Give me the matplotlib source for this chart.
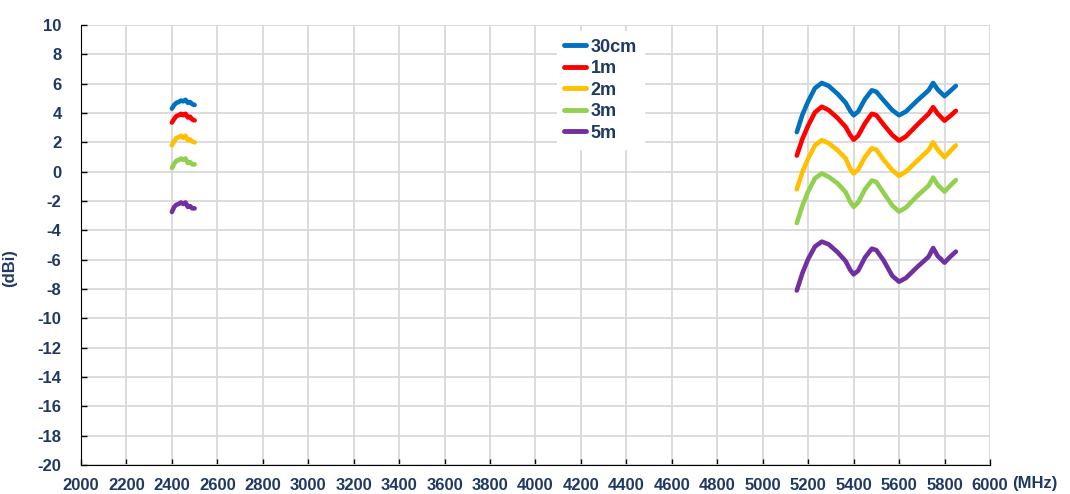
import numpy as np
import matplotlib.pyplot as plt

plt.rcParams['font.family'] = ['Liberation Sans', 'DejaVu Sans']
plt.rcParams['axes.unicode_minus'] = False

# 2.4 GHz band
freq_24 = [2400, 2410, 2420, 2430, 2440, 2450, 2460, 2470, 2480, 2490, 2500]
cm30_24 = [4.3, 4.55, 4.7, 4.75, 4.85, 4.8, 4.9, 4.7, 4.75, 4.6, 4.55]
m1_24 = [3.35, 3.6, 3.8, 3.85, 3.95, 3.85, 3.95, 3.7, 3.75, 3.55, 3.5]
m2_24 = [1.8, 2.1, 2.3, 2.35, 2.45, 2.3, 2.45, 2.15, 2.2, 2.05, 2.0]
m3_24 = [0.25, 0.55, 0.75, 0.8, 0.9, 0.8, 0.9, 0.6, 0.65, 0.5, 0.5]
m5_24 = [-2.75, -2.4, -2.25, -2.2, -2.1, -2.2, -2.1, -2.4, -2.35, -2.5, -2.5]

# 5 GHz band
freq_5 = [5150, 5175, 5200, 5230, 5260, 5290, 5330, 5365, 5385, 5400, 5420, 5450, 5480,
          5500, 5530, 5570, 5600, 5630, 5680, 5730, 5750, 5770, 5800, 5825, 5850]
cm30_5 = [2.7, 3.9, 4.8, 5.7, 6.05, 5.85, 5.3, 4.7, 4.15, 3.85, 4.1, 4.95, 5.55,
          5.45, 4.9, 4.2, 3.85, 4.1, 4.85, 5.55, 6.05, 5.6, 5.15, 5.5, 5.85]
m1_5 = [1.1, 2.25, 3.15, 4.05, 4.43, 4.2, 3.65, 3.05, 2.5, 2.18, 2.45, 3.3, 3.95,
        3.85, 3.25, 2.5, 2.12, 2.4, 3.2, 3.95, 4.4, 3.95, 3.48, 3.8, 4.15]
m2_5 = [-1.2, 0.0, 0.9, 1.8, 2.15, 1.95, 1.45, 0.9, 0.2, -0.12, 0.15, 1.0, 1.6,
        1.5, 0.85, 0.1, -0.28, 0.0, 0.75, 1.48, 2.0, 1.5, 0.98, 1.4, 1.8]
m3_5 = [-3.5, -2.3, -1.35, -0.45, -0.12, -0.35, -0.8, -1.4, -2.05, -2.4, -2.1, -1.2, -0.6,
        -0.7, -1.4, -2.3, -2.72, -2.45, -1.65, -0.95, -0.4, -0.9, -1.36, -0.95, -0.57]
m5_5 = [-8.1, -6.9, -5.95, -5.1, -4.77, -4.95, -5.5, -6.1, -6.7, -7.0, -6.75, -5.85, -5.25,
        -5.35, -6.0, -7.1, -7.5, -7.25, -6.5, -5.8, -5.2, -5.75, -6.2, -5.8, -5.45]

labels = ['30cm', '1m', '2m', '3m', '5m']
colors = ['#0070C0', '#FF0000', '#FFC000', '#92D050', '#7030A0']
series_24 = [cm30_24, m1_24, m2_24, m3_24, m5_24]
series_5 = [cm30_5, m1_5, m2_5, m3_5, m5_5]

txt_color = '#1F3864'

fig = plt.figure(figsize=(10.7, 4.94), dpi=100)
ax = fig.add_axes([0.0757, 0.0587, 0.8495, 0.8906])

for lab, col, s24, s5 in zip(labels, colors, series_24, series_5):
    ax.plot(freq_24, s24, color=col, lw=3.3, solid_capstyle='round', solid_joinstyle='round')
    ax.plot(freq_5, s5, color=col, lw=3.3, label=lab, solid_capstyle='round', solid_joinstyle='round')

ax.set_xlim(2000, 6000)
ax.set_ylim(-20, 10)
ax.set_xticks(np.arange(2000, 6001, 200))
ax.set_yticks(np.arange(-20, 11, 2))
ax.grid(True, color='#D9D9D9', lw=1.3)
ax.set_axisbelow(True)

for side in ['top', 'right']:
    ax.spines[side].set_visible(False)
ax.spines['left'].set_color('black')
ax.spines['bottom'].set_color('black')

ax.tick_params(direction='in', length=4, width=1, colors='black', labelcolor=txt_color)
ax.tick_params(axis='y', pad=14)
ax.tick_params(axis='x', pad=9)
for t in ax.get_xticklabels() + ax.get_yticklabels():
    t.set_fontsize(12)
    t.set_fontweight('bold')

ax.set_ylabel('(dBi)', fontsize=12, fontweight='bold', color=txt_color)
ax.yaxis.set_label_coords(-0.07, 0.448)
fig.text(0.967, 0.022, '(MHz)', fontsize=12, fontweight='bold', color=txt_color, ha='center', va='center')

leg = ax.legend(loc='upper left', bbox_to_anchor=(0.514, 1.006), frameon=True, fancybox=False,
                edgecolor='white', facecolor='white', framealpha=1, handlelength=1.2,
                handletextpad=0.25, labelspacing=0.25, borderpad=0.4,
                prop={'size': 13, 'weight': 'bold'})
for t in leg.get_texts():
    t.set_color(txt_color)
for h in leg.get_lines():
    h.set_linewidth(3.5)

plt.savefig('out.png', dpi=100)
